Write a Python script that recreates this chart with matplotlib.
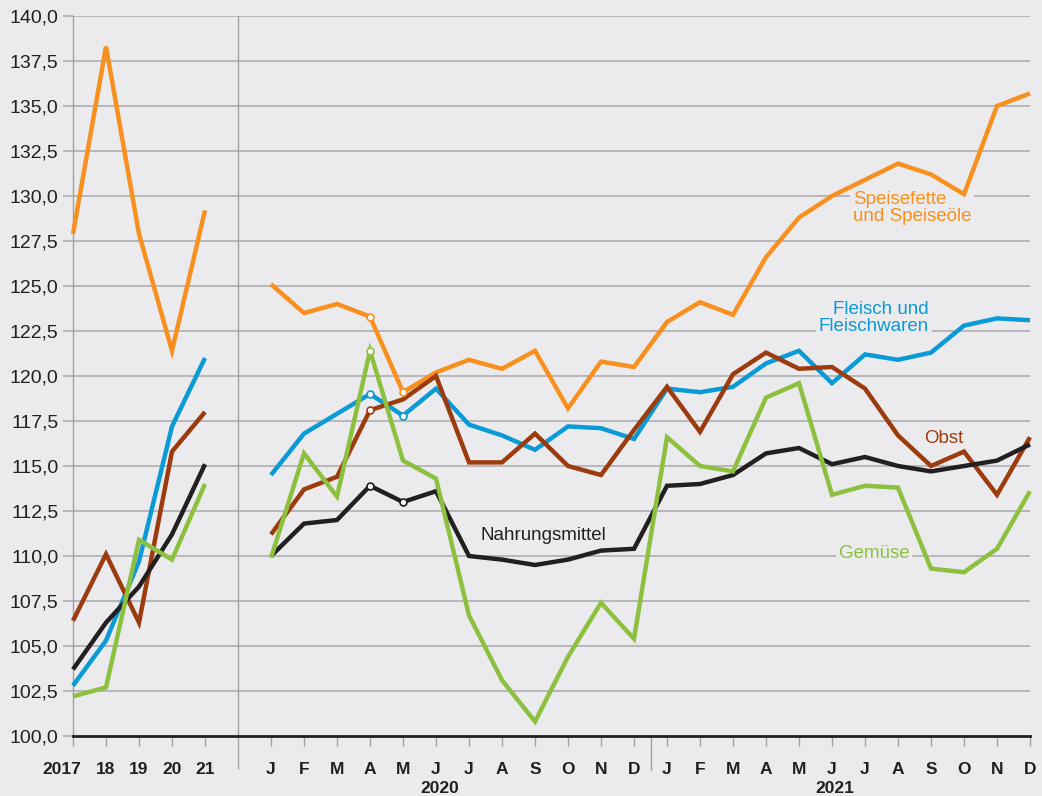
import matplotlib.pyplot as plt
import matplotlib.transforms as mtransforms

plt.rcParams['font.family'] = ['Liberation Sans', 'DejaVu Sans']

# Jahreswerte 2017-2021 und Monatswerte 2020/2021
year_labels = ['2017', '18', '19', '20', '21']
month_labels = ['J', 'F', 'M', 'A', 'M', 'J', 'J', 'A', 'S', 'O', 'N', 'D'] * 2
year_groups = ['2020', '2021']

fett_y = [127.9, 138.3, 127.9, 121.4, 129.2]
fett_m = [125.1, 123.5, 124.0, 123.3, 119.1, 120.2, 120.9, 120.4, 121.4, 118.2, 120.8, 120.5,
          123.0, 124.1, 123.4, 126.6, 128.8, 130.0, 130.9, 131.8, 131.2, 130.1, 135.0, 135.7]

fleisch_y = [102.8, 105.3, 109.7, 117.2, 121.0]
fleisch_m = [114.5, 116.8, 117.9, 119.0, 117.8, 119.3, 117.3, 116.7, 115.9, 117.2, 117.1, 116.5,
             119.3, 119.1, 119.4, 120.7, 121.4, 119.6, 121.2, 120.9, 121.3, 122.8, 123.2, 123.1]

obst_y = [106.4, 110.1, 106.3, 115.8, 118.0]
obst_m = [111.2, 113.7, 114.4, 118.1, 118.7, 120.0, 115.2, 115.2, 116.8, 115.0, 114.5, 117.0,
          119.4, 116.9, 120.1, 121.3, 120.4, 120.5, 119.3, 116.7, 115.0, 115.8, 113.4, 116.6]

nahrung_y = [103.7, 106.3, 108.3, 111.2, 115.1]
nahrung_m = [110.0, 111.8, 112.0, 113.9, 113.0, 113.6, 110.0, 109.8, 109.5, 109.8, 110.3, 110.4,
             113.9, 114.0, 114.5, 115.7, 116.0, 115.1, 115.5, 115.0, 114.7, 115.0, 115.3, 116.2]

gemuese_y = [102.2, 102.7, 110.9, 109.8, 114.0]
gemuese_m = [109.9, 115.7, 113.3, 121.4, 115.3, 114.3, 106.7, 103.1, 100.8, 104.4, 107.4, 105.4,
             116.6, 115.0, 114.7, 118.8, 119.6, 113.4, 113.9, 113.8, 109.3, 109.1, 110.4, 113.6]

bg = '#ebebed'
grid_c = '#b3b3b5'
c_fett = '#f7901e'
c_fleisch = '#0a9ad6'
c_obst = '#9b3b0e'
c_nahrung = '#231f20'
c_gemuese = '#8dc03f'

yr_x = list(range(5))
mo_x = list(range(6, 30))

fig = plt.figure(figsize=(10.42, 7.96), dpi=100, facecolor=bg)
ax = fig.add_axes([73 / 1042, 60 / 796, 957 / 1042, 720 / 796])
ax.set_facecolor(bg)
ax.set_xlim(0, 29)
ax.set_ylim(100, 140)

# grid lines
yt = [100 + 2.5 * i for i in range(17)]
ax.set_yticks(yt)
ax.set_yticklabels([f'{v:.1f}'.replace('.', ',') for v in yt], fontsize=14, color='#231f20')
for v in yt[1:]:
    ax.axhline(v, color=grid_c, lw=1.3, zorder=1)
ax.tick_params(axis='y', length=7.5, width=1.3, color=grid_c, pad=3)

# x ticks
ax.set_xticks(yr_x + mo_x)
ax.set_xticklabels(year_labels + month_labels, fontsize=12.5, fontweight='bold', color='#231f20')
ax.tick_params(axis='x', length=7.5, width=1, color='#a0a0a0', pad=11)
# "2017" sits a little left of its tick
lab0 = ax.get_xticklabels()[0]
lab0.set_transform(lab0.get_transform() + mtransforms.ScaledTranslation(-11 / 100, 0, fig.dpi_scale_trans))

for s in ['top', 'right']:
    ax.spines[s].set_visible(False)
ax.spines['left'].set_color('#a0a0a0')
ax.spines['left'].set_linewidth(1)
ax.spines['bottom'].set_color('#231f20')
ax.spines['bottom'].set_linewidth(2)
ax.spines['bottom'].set_zorder(5)

# separators
ax.plot([5, 5], [140, 98.2], color='#a0a0a0', lw=1, clip_on=False, zorder=2)
ax.plot([17.5, 17.5], [100, 98.1], color='#a0a0a0', lw=1, clip_on=False, zorder=2)

for i, g in enumerate(year_groups):
    ax.text(6 + 12 * i + 5.1, 97.1, g, ha='center', va='center', fontsize=12.5,
            fontweight='bold', color='#231f20', clip_on=False)

series = [
    (fett_y, fett_m, c_fett, [3, 4]),
    (fleisch_y, fleisch_m, c_fleisch, [3, 4]),
    (obst_y, obst_m, c_obst, [3]),
    (nahrung_y, nahrung_m, c_nahrung, [3, 4]),
    (gemuese_y, gemuese_m, c_gemuese, [3]),
]
for ys, ms, c, mk in series:
    kw = dict(color=c, lw=3.2, solid_joinstyle='miter', solid_capstyle='butt', clip_on=False, zorder=3)
    ax.plot(yr_x, ys, **kw)
    ax.plot(mo_x, ms, **kw)
    ax.plot([mo_x[i] for i in mk], [ms[i] for i in mk], ls='none', marker='o', ms=5,
            mfc='white', mec=c, mew=1.2, zorder=4, clip_on=False)

box = dict(facecolor=bg, edgecolor='none', pad=2)
ax.text(23.64, 129.35, 'Speisefette\nund Speiseöle', color=c_fett, fontsize=13.5,
        ha='left', va='center', linespacing=1.0, bbox=box, zorder=2)
ax.text(25.94, 123.2, 'Fleisch und\nFleischwaren', color=c_fleisch, fontsize=13.5,
        ha='right', va='center', linespacing=1.0, multialignment='right', bbox=box, zorder=2)
ax.text(26.4, 116.55, 'Obst', color=c_obst, fontsize=13.5, ha='center', va='center', zorder=2)
ax.text(14.24, 111.15, 'Nahrungsmittel', color=c_nahrung, fontsize=13.5, ha='center', va='center', zorder=2)
ax.text(24.27, 110.15, 'Gemüse', color=c_gemuese, fontsize=13.5, ha='center', va='center',
        bbox=box, zorder=2)

fig.savefig('out.png', dpi=100, facecolor=bg)
